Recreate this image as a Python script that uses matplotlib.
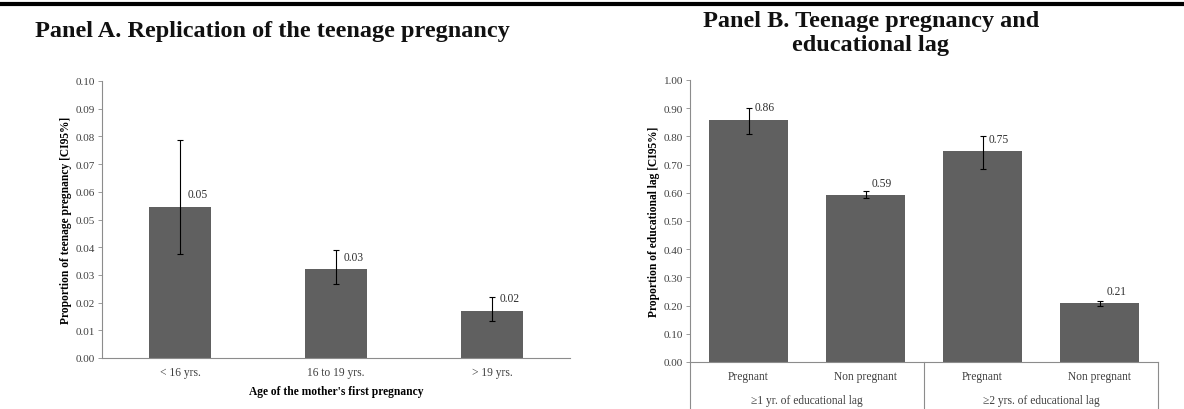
import matplotlib
matplotlib.use("Agg")
import matplotlib.pyplot as plt
from matplotlib.transforms import blended_transform_factory
import numpy as np

plt.rcParams['font.family'] = ['Liberation Serif', 'DejaVu Serif']

# Panel A data
age_groups = ["< 16 yrs.", "16 to 19 yrs.", "> 19 yrs."]
teen_preg = [0.0546, 0.0321, 0.0171]
teen_lo = [0.0375, 0.0266, 0.0134]
teen_hi = [0.0788, 0.0389, 0.0219]
teen_labels = ["0.05", "0.03", "0.02"]

# Panel B data
lag_cats = ["Pregnant", "Non pregnant", "Pregnant", "Non pregnant"]
lag_groups = ["\u22651 yr. of educational lag", "\u22652 yrs. of educational lag"]
lag_prop = [0.859, 0.592, 0.747, 0.209]
lag_lo = [0.808, 0.580, 0.683, 0.200]
lag_hi = [0.900, 0.605, 0.802, 0.217]
lag_labels = ["0.86", "0.59", "0.75", "0.21"]

W, H = 1184, 410
fig = plt.figure(figsize=(W / 100, H / 100), dpi=100)

bar_color = "#606060"
spine_color = "#8c8c8c"
small = 8.3


def px_axes(l, r, b, t):
    return fig.add_axes([l / W, 1 - b / H, (r - l) / W, (b - t) / H])


def style(ax):
    for s in ["top", "right"]:
        ax.spines[s].set_visible(False)
    for s in ["left", "bottom"]:
        ax.spines[s].set_color(spine_color)
        ax.spines[s].set_linewidth(0.8)
    ax.tick_params(axis="y", direction="out", length=3, width=0.6, color=spine_color,
                   labelsize=small - 0.3, pad=2, labelcolor="#404040")
    ax.tick_params(axis="x", length=0, labelsize=small, pad=6, labelcolor="#404040")


# ---- Panel A ----
axA = px_axes(102, 570, 359, 82)
xa = np.arange(len(age_groups))
yerr_a = [np.array(teen_preg) - np.array(teen_lo), np.array(teen_hi) - np.array(teen_preg)]
axA.bar(xa, teen_preg, width=0.4, color=bar_color)
axA.errorbar(xa, teen_preg, yerr=yerr_a, fmt="none", ecolor="black", elinewidth=0.8,
             capsize=2.5, capthick=0.8)
for x, v, lab in zip(xa, teen_preg, teen_labels):
    axA.annotate(lab, (x, v), xytext=(13, 9), textcoords="offset points",
                 ha="center", va="center", fontsize=small, color="#303030")
axA.set_xlim(-0.5, 2.5)
axA.set_ylim(0, 0.10)
axA.set_yticks(np.arange(0, 0.101, 0.01))
axA.set_yticklabels([f"{v:.2f}" for v in np.arange(0, 0.101, 0.01)])
axA.set_xticks(xa)
axA.set_xticklabels(age_groups)
style(axA)
axA.set_xlabel("Age of the mother's first pregnancy", fontsize=small, fontweight="bold", labelpad=5)
axA.set_ylabel("Proportion of teenage pregnancy [CI95%]", fontsize=small, fontweight="bold", labelpad=3)

# ---- Panel B ----
axB = px_axes(690, 1158, 363, 81)
xb = np.arange(len(lag_cats))
yerr_b = [np.array(lag_prop) - np.array(lag_lo), np.array(lag_hi) - np.array(lag_prop)]
axB.bar(xb, lag_prop, width=0.667, color=bar_color)
axB.errorbar(xb, lag_prop, yerr=yerr_b, fmt="none", ecolor="black", elinewidth=0.8,
             capsize=2.5, capthick=0.8)
for x, v, lab in zip(xb, lag_prop, lag_labels):
    axB.annotate(lab, (x, v), xytext=(12, 9), textcoords="offset points",
                 ha="center", va="center", fontsize=small, color="#303030")
axB.set_xlim(-0.5, 3.5)
axB.set_ylim(0, 1.0)
axB.set_yticks(np.arange(0, 1.001, 0.1))
axB.set_yticklabels([f"{v:.2f}" for v in np.arange(0, 1.001, 0.1)])
axB.set_xticks(xb)
axB.set_xticklabels(lag_cats)
style(axB)
axB.set_ylabel("Proportion of educational lag [CI95%]", fontsize=small, fontweight="bold", labelpad=3)

# group labels and separators below panel B axis
tr = blended_transform_factory(axB.transData, axB.transAxes)
for gi, g in enumerate(lag_groups):
    axB.text(2 * gi + 0.5, -0.135, g, transform=tr, ha="center", va="center",
             fontsize=small, color="#404040")
for xs in [-0.5, 1.5, 3.5]:
    axB.plot([xs, xs], [0, -0.175], transform=tr, color=spine_color, lw=0.8, clip_on=False)

# titles and top rule
fig.text(35 / W, 1 - 31 / H, "Panel A. Replication of the teenage pregnancy",
         fontsize=17.5, fontweight="bold", ha="left", va="center", color="#111111")
fig.text(871 / W, 1 - 22 / H, "Panel B. Teenage pregnancy and",
         fontsize=17.5, fontweight="bold", ha="center", va="center", color="#111111")
fig.text(871 / W, 1 - 45 / H, "educational lag",
         fontsize=17.5, fontweight="bold", ha="center", va="center", color="#111111")
fig.add_artist(plt.Line2D([0, 1], [1 - 5 / H, 1 - 5 / H], color="black", lw=3,
                          transform=fig.transFigure))

fig.savefig("out.png", dpi=100)
